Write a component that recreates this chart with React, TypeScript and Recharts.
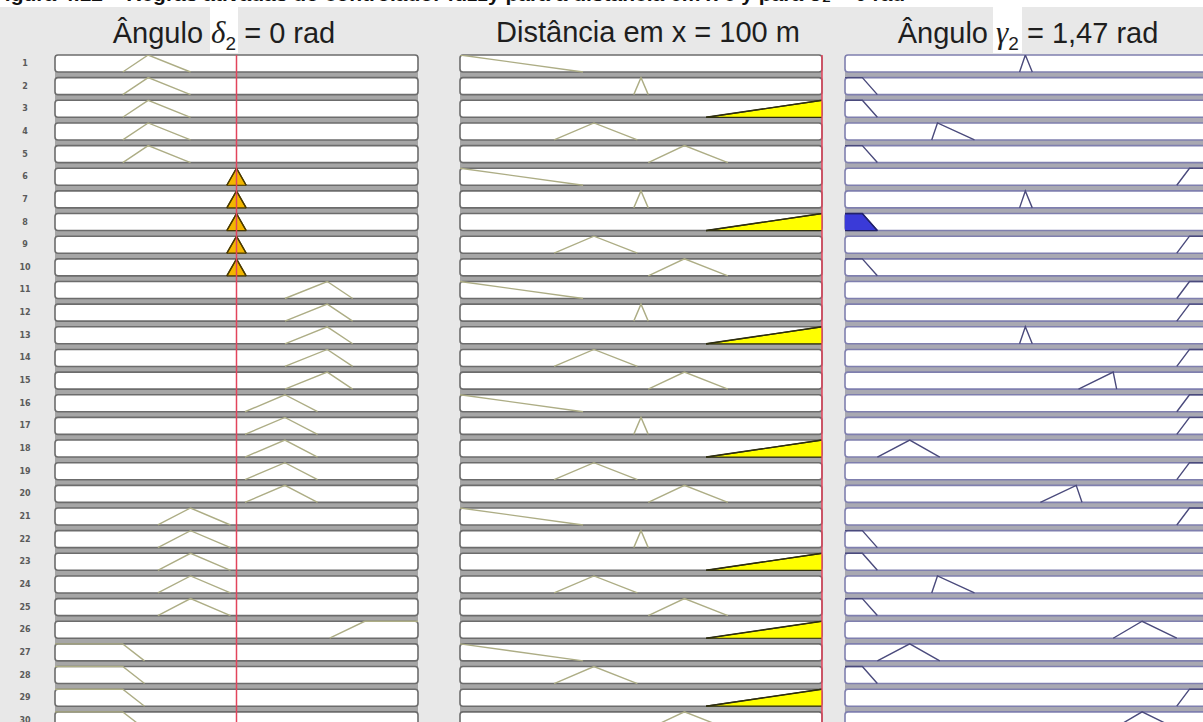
import React from "react";
import { ComposedChart, Line, Area, XAxis, YAxis, ReferenceArea, ReferenceLine } from "recharts";

type Pt = [number, number]; // [x, grau de pertinência]

const ROWS = 30;
const PITCH = 22.65; // altura de cada regra, px
const BOX = 0.75; // parte da linha ocupada pela caixa branca

const ruleLabels = [
  "1", "2", "3", "4", "5", "6", "7", "8", "9", "10",
  "11", "12", "13", "14", "15", "16", "17", "18", "19", "20",
  "21", "22", "23", "24", "25", "26", "27", "28", "29", "30",
];

// entrada δ2 (rad)
const deltaRange: [number, number] = [-1.5, 1.5];
const deltaValue = 0;
const dNG: Pt[] = [[-1.5, 1], [-0.94, 1], [-0.76, 0]];
const dNM: Pt[] = [[-0.94, 0], [-0.73, 1], [-0.38, 0]];
const dNP: Pt[] = [[-0.65, 0], [-0.38, 1], [-0.05, 0]];
const dZE: Pt[] = [[-0.08, 0], [0, 1], [0.08, 0]];
const dPP: Pt[] = [[0.07, 0], [0.4, 1], [0.67, 0]];
const dPM: Pt[] = [[0.4, 0], [0.75, 1], [0.96, 0]];
const dPG: Pt[] = [[0.77, 0], [1.06, 1], [1.5, 1]];
const deltaRules = [
  dNM, dNM, dNM, dNM, dNM, dZE, dZE, dZE, dZE, dZE,
  dPM, dPM, dPM, dPM, dPM, dPP, dPP, dPP, dPP, dPP,
  dNP, dNP, dNP, dNP, dNP, dPG, dNG, dNG, dNG, dNG,
];

// entrada distância em x (m)
const distRange: [number, number] = [0, 100];
const distValue = 100;
const xPerto: Pt[] = [[0, 1], [34, 0]];
const xMedPerto: Pt[] = [[26, 0], [37, 1], [49, 0]];
const xMeio: Pt[] = [[48, 0], [50, 1], [52, 0]];
const xMedLonge: Pt[] = [[52, 0], [62, 1], [74, 0]];
const xLonge: Pt[] = [[68, 0], [100, 1]];
const distRules = [
  xPerto, xMeio, xLonge, xMedPerto, xMedLonge,
  xPerto, xMeio, xLonge, xMedPerto, xMedLonge,
  xPerto, xMeio, xLonge, xMedPerto, xMedLonge,
  xPerto, xMeio, xLonge, xMedPerto, xMedLonge,
  xPerto, xMeio, xLonge, xMedPerto, xMedLonge,
  xLonge, xPerto, xMedPerto, xLonge, xMedLonge,
];

// saída γ2 (rad)
const gammaRange: [number, number] = [0, 3.14];
const gMB: Pt[] = [[0, 1], [0.15, 1], [0.28, 0]];
const gB: Pt[] = [[0.28, 0], [0.56, 1], [0.82, 0]];
const gMedB: Pt[] = [[0.75, 0], [0.8, 1], [1.12, 0]];
const gZ: Pt[] = [[1.51, 0], [1.56, 1], [1.62, 0]];
const gMedA1: Pt[] = [[1.69, 0], [2.0, 1], [2.05, 0]];
const gMedA2: Pt[] = [[2.02, 0], [2.32, 1], [2.35, 0]];
const gA: Pt[] = [[2.32, 0], [2.57, 1], [2.87, 0]];
const gMA: Pt[] = [[2.87, 0], [2.98, 1], [3.14, 1]];
const gammaRules = [
  gZ, gMB, gMB, gMedB, gMB, gMA, gZ, gMB, gMA, gMB,
  gMA, gMA, gZ, gMA, gMedA2, gMA, gMA, gB, gMA, gMedA1,
  gMA, gMB, gMB, gMedB, gMB, gA, gB, gMB, gMA, gA,
];

function membership(mf: Pt[], v: number) {
  if (v < mf[0][0] || v > mf[mf.length - 1][0]) return 0;
  for (let k = 1; k < mf.length; k++) {
    const [x0, m0] = mf[k - 1];
    const [x1, m1] = mf[k];
    if (v <= x1) return x1 === x0 ? Math.max(m0, m1) : m0 + ((m1 - m0) * (v - x0)) / (x1 - x0);
  }
  return 0;
}

const deltaDeg = deltaRules.map((mf) => membership(mf, deltaValue));
const distDeg = distRules.map((mf) => membership(mf, distValue));
const ruleDeg = deltaDeg.map((d, i) => Math.min(d, distDeg[i]));

interface PanelProps {
  left: number;
  width: number;
  domain: [number, number];
  rules: Pt[][];
  degrees: number[];
  line: string;
  fill: string;
  edge: string;
  boxStroke: string;
  band: string;
  marker?: number;
  labels?: boolean;
}

const RulePanel: React.FC<PanelProps> = ({
  left, width, domain, rules, degrees, line, fill, edge, boxStroke, band, marker, labels,
}) => {
  const axisW = labels ? 53 : 0;
  const rowTicks = rules.map((_, i) => ROWS - i - BOX / 2);
  const boxShape = (p: any) => (
    <rect x={p.x} y={p.y} width={p.width} height={p.height} rx={3} fill="#fff" stroke={boxStroke} strokeWidth={1.6} />
  );
  const rowTick = (p: any) => {
    const i = Math.round(ROWS - BOX / 2 - p.payload.value);
    return (
      <text x={25} y={p.y} textAnchor="middle" dominantBaseline="central" fontSize={8} fontWeight={600} fill="#5a5a5a" fontFamily="DejaVu Sans">
        {ruleLabels[i]}
      </text>
    );
  };

  return (
    <div style={{ position: "absolute", left: left - 2 - axisW, top: 53 }}>
      <ComposedChart
        width={width + 4 + axisW}
        height={ROWS * PITCH + 2}
        margin={{ top: 2, right: 2, bottom: 0, left: 2 }}
      >
        <XAxis type="number" dataKey="x" domain={domain} hide allowDataOverflow />
        <YAxis
          type="number"
          domain={[0, ROWS]}
          hide={!labels}
          width={axisW}
          ticks={rowTicks}
          interval={0}
          axisLine={false}
          tickLine={false}
          tick={rowTick}
          allowDataOverflow
        />
        <ReferenceArea x1={domain[0]} x2={domain[1]} y1={0} y2={ROWS} fill={band} fillOpacity={1} stroke="none" />
        {rules.map((_, i) => (
          <ReferenceArea key={`box${i}`} x1={domain[0]} x2={domain[1]} y1={ROWS - i - BOX} y2={ROWS - i} shape={boxShape} />
        ))}
        {rules.map((mf, i) =>
          degrees[i] > 0 ? (
            <Area
              key={`fill${i}`}
              data={mf.map(([x, m]) => ({ x, r: [ROWS - i - BOX, ROWS - i - BOX + Math.min(m, degrees[i]) * BOX] }))}
              dataKey="r"
              type="linear"
              fill={fill}
              fillOpacity={1}
              stroke={edge}
              strokeWidth={1.2}
              dot={false}
              activeDot={false}
              isAnimationActive={false}
            />
          ) : null
        )}
        {rules.map((mf, i) => (
          <Line
            key={`mf${i}`}
            data={mf.map(([x, m]) => ({ x, y: ROWS - i - BOX + m * BOX }))}
            dataKey="y"
            type="linear"
            stroke={degrees[i] > 0 ? edge : line}
            strokeWidth={1.4}
            dot={false}
            activeDot={false}
            isAnimationActive={false}
          />
        ))}
        {marker !== undefined && <ReferenceLine x={marker} stroke="#e2445c" strokeWidth={1.5} />}
      </ComposedChart>
    </div>
  );
};

const titleStyle: React.CSSProperties = {
  position: "absolute",
  top: 18,
  fontSize: 29,
  lineHeight: "29px",
  color: "#1e1e1e",
  textAlign: "center",
  whiteSpace: "nowrap",
};
const greek: React.CSSProperties = { fontFamily: '"Liberation Serif", serif', fontStyle: "italic", fontSize: 31 };
const sub: React.CSSProperties = { fontSize: 19, position: "relative", top: 7 };

export default function App() {
  return (
    <div
      style={{
        position: "absolute",
        left: 0,
        top: 0,
        width: 1203,
        height: 722,
        overflow: "hidden",
        background: "#e8e8e8",
        fontFamily: '"Liberation Sans", Arial, sans-serif',
      }}
    >
      <div style={{ position: "absolute", left: 0, top: 0, width: 1203, height: 7, background: "#fff" }} />
      <div style={{ position: "absolute", left: -8, top: -17, fontSize: 21, lineHeight: 1, fontWeight: 700, color: "#111", whiteSpace: "nowrap" }}>
        Figura 4.12 – Regras ativadas do controlador fuzzy para a distância em x e y para δ₂ = 0 rad
      </div>
      <div style={{ position: "absolute", left: 210, top: 7, width: 28, height: 46, background: "#fff" }} />
      <div style={{ position: "absolute", left: 993, top: 7, width: 29, height: 46, background: "#fff" }} />

      <div style={{ ...titleStyle, left: 54, width: 340 }}>
        Ângulo <span style={greek}>δ</span><span style={sub}>2</span> = 0 rad
      </div>
      <div style={{ ...titleStyle, left: 478, width: 340 }}>Distância em x = 100 m</div>
      <div style={{ ...titleStyle, left: 858, width: 340 }}>
        Ângulo <span style={greek}>γ</span><span style={sub}>2</span> = 1,47 rad
      </div>

      <RulePanel
        left={55}
        width={363}
        domain={deltaRange}
        rules={deltaRules}
        degrees={deltaDeg}
        line="#adad85"
        fill="#f2b600"
        edge="#4a3a00"
        boxStroke="#6c6c6c"
        band="#a6a6a6"
        marker={deltaValue}
        labels
      />
      <RulePanel
        left={460}
        width={362}
        domain={distRange}
        rules={distRules}
        degrees={distDeg}
        line="#adad85"
        fill="#ffff00"
        edge="#2e2e10"
        boxStroke="#6c6c6c"
        band="#a6a6a6"
        marker={distValue}
      />
      <RulePanel
        left={845}
        width={363}
        domain={gammaRange}
        rules={gammaRules}
        degrees={ruleDeg}
        line="#4a4a7c"
        fill="#3a3ad8"
        edge="#22226a"
        boxStroke="#7f7fae"
        band="#a9a9b2"
      />
    </div>
  );
}
